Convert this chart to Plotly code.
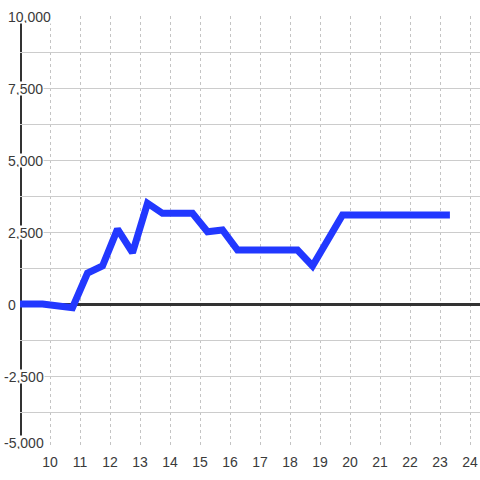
import plotly.graph_objects as go

# Data
x_vals = [9.0, 9.75, 10.75, 11.25, 11.75, 12.25, 12.75, 13.25, 13.75, 14.75,
          15.25, 15.75, 16.25, 18.25, 18.75, 19.75, 23.33]
y_vals = [0, 0, -130, 1070, 1320, 2600, 1780, 3500, 3150, 3150,
          2510, 2570, 1875, 1875, 1320, 3090, 3090]

x_ticks = list(range(10, 25))
x_tick_labels = [str(v) for v in x_ticks]
y_ticks = [10000, 7500, 5000, 2500, 0, -2500, -5000]
y_tick_labels = ["10,000", "7,500", "5,000", "2,500", "0", "-2,500", "-5,000"]

BG = "#ffffff"
FONT = "Liberation Sans, Arial, sans-serif"
TXT = "#3a3a3a"
L = 20

fig = go.Figure()
fig.add_trace(go.Scatter(
    x=x_vals, y=y_vals, mode="lines",
    line=dict(color="#2238ff", width=7),
    hoverinfo="skip", showlegend=False, cliponaxis=False,
))

# y-axis line (vertical) at left edge of range
fig.add_shape(type="line", xref="x", yref="paper", x0=9, x1=9, y0=0, y1=1,
              line=dict(color="#333333", width=4), layer="below")

y_min = min(y_ticks)
annotations = []
for v, lab in zip(y_ticks, y_tick_labels):
    left_px = 3 if v < 0 else 7
    annotations.append(dict(
        x=0, xref="paper", y=v, yref="y", text=lab, showarrow=False,
        xanchor="left", yanchor="middle", xshift=left_px - L,
        yshift=6 if v == y_min else 0,
        font=dict(family=FONT, size=14, color=TXT),
        bgcolor=BG, borderpad=0, height=13,
    ))

fig.update_layout(
    width=480, height=480,
    margin=dict(l=L, r=0, t=16, b=32),
    paper_bgcolor=BG, plot_bgcolor=BG,
    annotations=annotations,
    xaxis=dict(
        range=[9, 24.3333], tickvals=x_ticks, ticktext=x_tick_labels,
        showgrid=True, gridcolor="#c4c4c4", gridwidth=1, griddash="3px,3px",
        zeroline=False, showline=False,
        ticks="outside", ticklen=1, tickcolor="rgba(0,0,0,0)",
        tickfont=dict(family=FONT, size=14, color=TXT),
    ),
    yaxis=dict(
        range=[-5000, 10000], dtick=1250, tick0=0,
        showgrid=True, gridcolor="#cccccc", gridwidth=1,
        zeroline=True, zerolinecolor="#333333", zerolinewidth=3,
        showticklabels=False, showline=False, ticks="",
    ),
)

fig.write_html("out.html", config={"displayModeBar": False},
               post_script="document.body.style.margin='0';document.body.style.overflow='hidden';")
